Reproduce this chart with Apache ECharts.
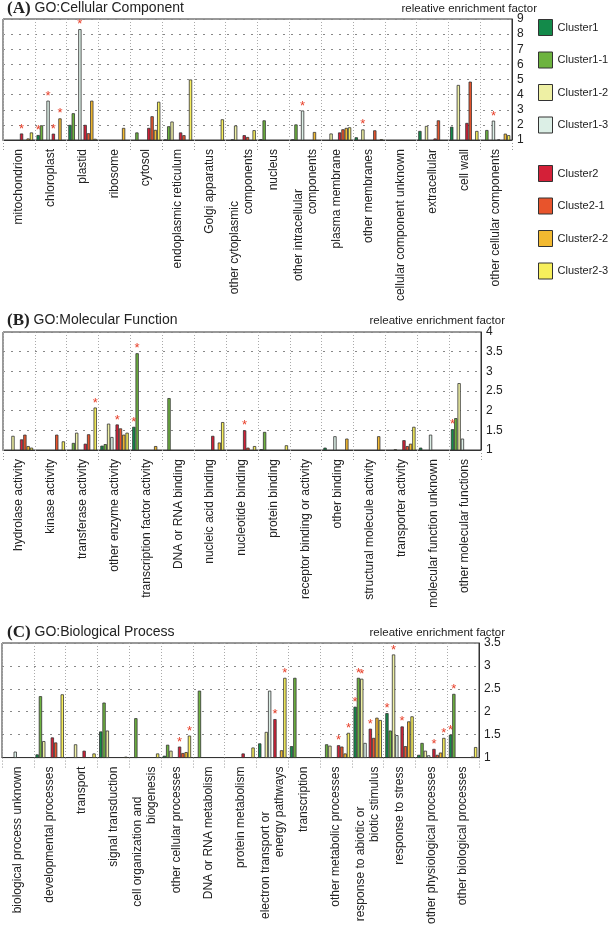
<!DOCTYPE html>
<html><head><meta charset="utf-8">
<script src="https://cdn.jsdelivr.net/npm/echarts@6/dist/echarts.min.js"></script>
<style>html,body{margin:0;padding:0;background:#fff}#c{width:609px;height:927px}</style>
</head><body><div id="c"></div>
<script>
// ---------- data ----------
const seriesNames = ['Cluster1','Cluster1-1','Cluster1-2','Cluster1-3','Cluster2','Cluste2-1','Cluster2-2','Cluster2-3'];
const seriesColors = ['#138a4a','#6db33f','#eef0a4','#dcefe6','#d42038','#e8542c','#f2b930','#f7ef5c'];

const ccCategories = ['mitochondrion','chloroplast','plastid','ribosome','cytosol','endoplasmic reticulum','Golgi apparatus','other cytoplasmic\ncomponents','nucleus','other intracellular\ncomponents','plasma membrane','other membranes','cellular component unknown','extracellular','cell wall','other cellular components'];
const ccTicks = [1,2,3,4,5,6,7,8,9];
const cc_C1   = [null,1.33,2.0,null,null,1.03,null,null,1.05,1.04,null,1.18,null,1.6,1.88,null];
const cc_C1_1 = [null,1.97,2.77,null,1.5,1.91,null,1.04,2.3,2.03,null,null,null,null,null,1.66];
const cc_C1_2 = [null,null,null,null,null,2.22,null,1.96,null,null,1.43,1.7,null,1.93,4.64,null];
const cc_C1_3 = [null,3.6,8.33,null,null,null,null,null,null,2.95,null,null,null,null,null,2.28];
const cc_C2   = [1.43,1.42,2.0,null,1.8,1.5,null,1.32,null,null,1.5,null,null,1.1,2.13,1.03];
const cc_C2_1 = [null,null,1.45,null,2.57,1.32,null,1.2,null,null,1.71,1.64,null,2.3,4.86,null];
const cc_C2_2 = [1.1,2.43,3.6,1.8,1.67,null,null,null,null,1.53,1.8,null,null,null,null,1.42];
const cc_C2_3 = [1.5,null,1.08,null,3.53,5.0,2.37,1.65,null,null,1.84,1.05,null,null,1.6,1.32];
// [seriesIndex, categoryIndex]
const ccStars = [[4,0],[0,1],[3,1],[4,1],[6,1],[3,2],[3,9],[2,11],[3,15]];

const mfCategories = ['hydrolase activity','kinase activity','transferase activity','other enzyme activity','transcription factor activity','DNA or RNA binding','nucleic acid binding','nucleotide binding','protein binding','receptor binding or activity','other binding','structural molecule activity','transporter activity','molecular function unknown','other molecular functions'];
const mfTicks = [1,1.5,2,2.5,3,3.5,4];
const mf_C1   = [null,null,null,1.11,1.59,null,null,null,1.02,null,1.06,null,null,1.06,1.53];
const mf_C1_1 = [null,null,1.18,1.15,3.46,2.32,null,null,1.46,null,null,null,null,null,1.81];
const mf_C1_2 = [1.36,null,1.44,1.67,null,null,null,null,null,null,null,null,1.02,null,2.70];
const mf_C1_3 = [null,null,null,1.33,null,null,null,null,null,null,1.35,null,null,1.39,1.29];
const mf_C2   = [1.27,null,1.16,1.65,null,null,1.36,1.50,null,null,null,null,1.25,null,null];
const mf_C2_1 = [1.39,1.39,1.40,1.55,null,null,null,1.06,null,null,null,null,1.10,null,null];
const mf_C2_2 = [1.10,null,null,1.39,1.10,null,1.19,null,null,null,1.29,1.35,1.16,null,null];
const mf_C2_3 = [1.06,1.22,2.08,1.44,null,null,1.71,1.10,1.12,null,null,null,1.59,null,null];
const mfStars = [[7,2],[4,3],[0,4],[1,4],[4,7],[0,14]];

const bpCategories = ['biological process unknown','developmental processes','transport','signal transduction','cell organization and\nbiogenesis','other cellular processes','DNA or RNA metabolism','protein metabolism','electron transport or\nenergy pathways','transcription','other metabolic processes','response to abiotic or\nbiotic stimulus','response to stress','other physiological processes','other biological processes'];
const bpTicks = [1,1.5,2,2.5,3,3.5];
const bp_C1   = [null,1.07,null,1.57,null,1.04,null,null,1.31,1.25,null,2.11,1.97,1.06,1.50];
const bp_C1_1 = [null,2.34,null,2.20,1.86,1.28,2.46,null,null,2.74,1.29,2.74,1.59,1.32,2.39];
const bp_C1_2 = [null,1.36,1.29,1.59,null,1.15,null,null,1.56,null,1.26,2.72,3.25,1.15,null];
const bp_C1_3 = [1.13,null,null,null,null,null,null,null,2.46,null,null,1.32,1.49,1.05,null];
const bp_C2   = [null,1.44,1.15,null,null,1.24,null,1.09,1.84,null,1.27,1.63,1.68,1.19,null];
const bp_C2_1 = [null,1.33,null,null,null,1.10,null,null,null,null,1.24,1.43,1.25,1.06,null];
const bp_C2_2 = [null,null,null,null,null,1.12,null,null,1.16,null,1.09,1.87,1.79,1.11,1.02];
const bp_C2_3 = [null,2.38,1.09,1.02,1.09,1.48,null,1.22,2.74,null,1.54,1.82,1.90,1.43,1.23];
const bpStars = [[4,5],[7,5],[4,8],[7,8],[4,10],[7,10],[0,11],[1,11],[2,11],[4,11],[0,12],[2,12],[4,12],[4,13],[7,13],[0,14],[1,14]];

const panelTitles = ['(A)','(B)','(C)'];
const panelNames = ['GO:Cellular Component','GO:Molecular Function','GO:Biological Process'];
const axisTitle = 'releative enrichment factor';

// ---------- layout / style ----------
const FONT = 'Liberation Sans, Arial, Helvetica, sans-serif';
const grids = [
  {left:3, top:19, width:509, height:121},
  {left:3, top:332, width:478, height:118},
  {left:2, top:643, width:477, height:119}
];
const labelOffsets = {
  'other cytoplasmic\ncomponents': 52,
  'other intracellular\ncomponents': 40,
  'cell organization and\nbiogenesis': 30,
  'electron transport or\nenergy pathways': 45,
  'response to abiotic or\nbiotic stimulus': 40
};
const rich = {};
Object.values(labelOffsets).forEach(o => {
  rich['p'+o] = {padding:[0,o,0,0], fontSize:12, fontFamily:FONT, color:'#222', lineHeight:14};
});
rich.n = {fontSize:12, fontFamily:FONT, color:'#222', lineHeight:14};
function fmt(v){
  if (v.indexOf('\n') < 0) return v;
  const parts = v.split('\n');
  return '{p'+labelOffsets[v]+'|'+parts[0]+'}\n{n|'+parts[1]+'}';
}

const panels = [
  {cats: ccCategories, ticks: ccTicks, vals:[cc_C1,cc_C1_1,cc_C1_2,cc_C1_3,cc_C2,cc_C2_1,cc_C2_2,cc_C2_3], stars: ccStars},
  {cats: mfCategories, ticks: mfTicks, vals:[mf_C1,mf_C1_1,mf_C1_2,mf_C1_3,mf_C2,mf_C2_1,mf_C2_2,mf_C2_3], stars: mfStars},
  {cats: bpCategories, ticks: bpTicks, vals:[bp_C1,bp_C1_1,bp_C1_2,bp_C1_3,bp_C2,bp_C2_1,bp_C2_2,bp_C2_3], stars: bpStars}
];

const xAxis = [], yAxis = [], series = [];
panels.forEach((p, pi) => {
  xAxis.push({
    type:'category', gridIndex:pi, data:p.cats,
    axisLine:{lineStyle:{color:'#333', width:1}},
    axisTick:{show:true, length:10, lineStyle:{color:'#999', type:[1,2]}},
    splitLine:{show:true, lineStyle:{color:'#aaa', type:[1,2]}},
    axisLabel:{interval:0, rotate:90, margin:9, fontSize:12, fontFamily:FONT, color:'#222', lineHeight:14, formatter:fmt, rich:rich}
  });
  yAxis.push({
    type:'value', gridIndex:pi, position:'right',
    min:p.ticks[0], max:p.ticks[p.ticks.length-1], interval:p.ticks[1]-p.ticks[0],
    axisLine:{show:true, lineStyle:{color:'#333'}},
    axisTick:{show:false},
    splitLine:{show:true, lineStyle:{color:'#888', type:[2,6]}},
    axisLabel:{margin:5, fontSize:12, fontFamily:FONT, color:'#222'}
  });
  p.vals.forEach((arr, si) => {
    const starSet = new Set(p.stars.filter(s => s[0] === si).map(s => s[1]));
    series.push({
      type:'bar', name:seriesNames[si], xAxisIndex:pi, yAxisIndex:pi,
      barWidth:3.3, barGap:'0%', clip:true, silent:true,
      itemStyle:{color:seriesColors[si], borderColor:'#333', borderWidth:0.8},
      label:{show:false, position:'top', distance:-2, formatter:'*', color:'#e8402a', fontSize:13, fontFamily:FONT},
      data: arr.map((v, ci) => starSet.has(ci) ? {value:v, label:{show:true}} : v)
    });
    if (si === 3) {
      series.push({type:'bar', name:'__gap', xAxisIndex:pi, yAxisIndex:pi, barWidth:2, barGap:'0%', silent:true,
        itemStyle:{color:'transparent'}, data:p.cats.map(() => null)});
    }
  });
});

const titleTops = [0, 312, 624];
const subTops = [3, 315, 627];
const subRights = [72, 104, 104];
const title = [];
panels.forEach((p, pi) => {
  title.push({
    text:'{b|'+panelTitles[pi]+'} '+panelNames[pi], left:7, top:titleTops[pi], padding:0,
    textStyle:{fontSize:14, fontWeight:'normal', fontFamily:FONT, color:'#222',
      rich:{b:{fontFamily:'Liberation Serif, Times New Roman, serif', fontWeight:'bold', fontSize:17, color:'#222'}}}
  });
  title.push({
    text:axisTitle, right:subRights[pi], top:subTops[pi], padding:0,
    textStyle:{fontSize:11.5, fontWeight:'normal', fontFamily:FONT, color:'#222'}
  });
});

const legendCommon = {orient:'vertical', left:538, padding:0, itemWidth:14, itemHeight:16, itemGap:15.5, icon:'rect',
  selectedMode:false, textStyle:{fontSize:11, fontFamily:FONT, color:'#222'},
  itemStyle:{borderColor:'#333', borderWidth:1}};

const option = {
  animation:false,
  backgroundColor:'#fff',
  title:title,
  legend:[
    Object.assign({}, legendCommon, {top:19, data:seriesNames.slice(0,4)}),
    Object.assign({}, legendCommon, {top:165, data:seriesNames.slice(4)})
  ],
  grid: grids.map(g => Object.assign({show:true, borderColor:'#333', borderWidth:1, backgroundColor:'transparent', containLabel:false}, g)),
  xAxis:xAxis, yAxis:yAxis, series:series
};
const chart = echarts.init(document.getElementById('c'), null, {renderer:'canvas'});
chart.setOption(option);
</script></body></html>
